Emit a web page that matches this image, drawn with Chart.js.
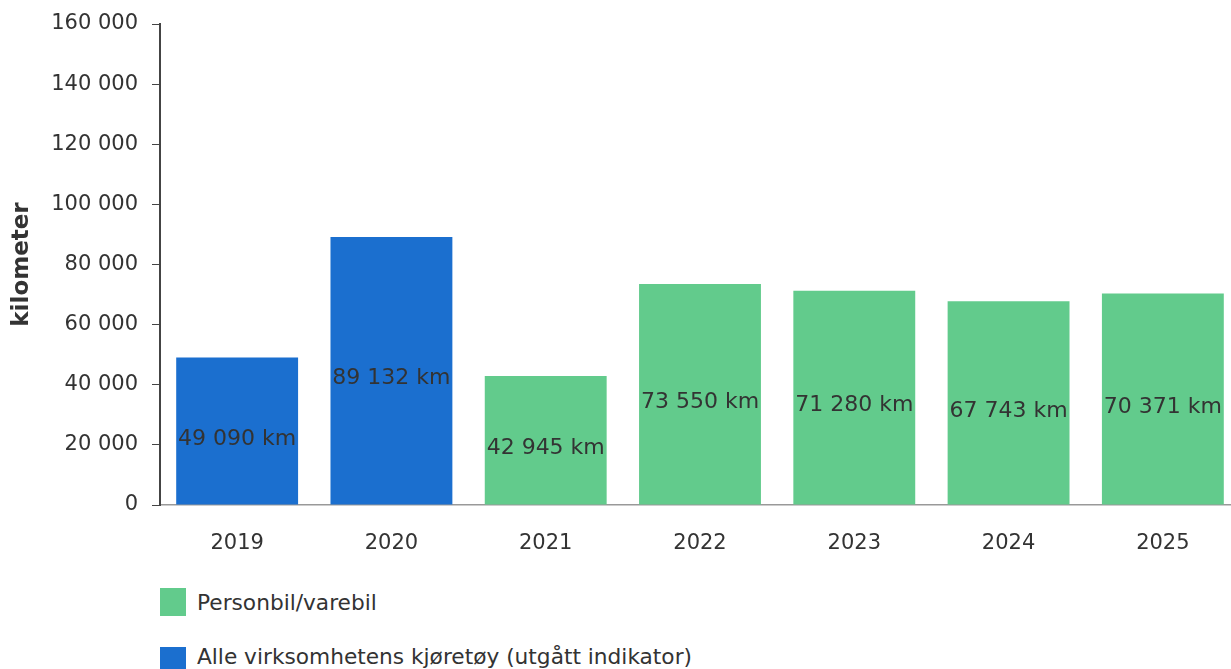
<!DOCTYPE html>
<html>
<head>
<meta charset="utf-8">
<script src="https://cdn.jsdelivr.net/npm/chart.js@4.4.1/dist/chart.umd.min.js"></script>
<style>
  body { margin: 0; background: #fff; overflow: hidden; font-family: "DejaVu Sans", Verdana, sans-serif; }
  #wrap { position: relative; width: 1240px; height: 560px; }
  #legend { position: absolute; left: 160px; top: 588px; }
  .item { display: flex; align-items: center; height: 28px; margin-bottom: 31px; font-size: 21.7px; color: #333; }
  .item:last-child span:last-child { position: relative; top: -5px; }
  .box { width: 26px; height: 28px; margin-right: 11px; }
</style>
</head>
<body>
<div id="wrap"><canvas id="chart"></canvas></div>
<div id="legend"></div>
<script>
const years = ["2019", "2020", "2021", "2022", "2023", "2024", "2025"];
const personbil = [null, null, 42945, 73550, 71280, 67743, 70371];
const alleKjoretoy = [49090, 89132, null, null, null, null, null];
const yTicks = [0, 20000, 40000, 60000, 80000, 100000, 120000, 140000, 160000];

const green = "#62cb8c";
const blue = "#1b6fcf";

// thousands with space, like "160 000"
function fmt(v) {
  return String(v).replace(/\B(?=(\d{3})+(?!\d))/g, " ");
}

// value labels roughly in the middle of each bar
const barLabels = {
  id: "barLabels",
  afterDatasetsDraw(chart) {
    const ctx = chart.ctx;
    ctx.save();
    ctx.font = "22px 'DejaVu Sans'";
    ctx.fillStyle = "#333";
    ctx.textAlign = "center";
    ctx.textBaseline = "middle";
    chart.data.datasets.forEach((ds, i) => {
      chart.getDatasetMeta(i).data.forEach((bar, j) => {
        if (ds.data[j] == null) return;
        const mid = (bar.y + bar.base) / 2 + 8;
        ctx.fillText(fmt(ds.data[j]) + " km", bar.x, mid);
      });
    });
    ctx.restore();
  }
};

new Chart(document.getElementById("chart"), {
  type: "bar",
  data: {
    labels: years,
    datasets: [
      { label: "Personbil/varebil", data: personbil, backgroundColor: green },
      { label: "Alle virksomhetens kjøretøy (utgått indikator)", data: alleKjoretoy, backgroundColor: blue }
    ]
  },
  options: {
    responsive: true,
    maintainAspectRatio: false,
    animation: false,
    layout: { padding: { top: 24, right: 0, bottom: 0, left: 0 } },
    datasets: { bar: { grouped: false, barPercentage: 0.79, categoryPercentage: 1 } },
    plugins: { legend: { display: false }, tooltip: { enabled: false } },
    scales: {
      x: {
        grid: { display: false },
        border: { display: true, color: "#999", width: 1.5 },
        ticks: { color: "#333", font: { family: "DejaVu Sans", size: 21 }, padding: 18 },
        afterFit(scale) { scale.height = 55; }
      },
      y: {
        min: 0,
        max: 160000,
        afterBuildTicks(scale) { scale.ticks = yTicks.map(v => ({ value: v })); },
        grid: { drawOnChartArea: false, drawTicks: true, tickLength: 8, color: "#444" },
        border: { display: true, color: "#444", width: 2 },
        ticks: { color: "#333", font: { family: "DejaVu Sans", size: 21, lineHeight: 0.8 }, padding: 14, callback: v => fmt(v) },
        title: { display: true, text: "kilometer", color: "#333", font: { family: "DejaVu Sans", size: 23, weight: "bold" }, padding: { top: 8, bottom: 0 } },
        afterFit(scale) { scale.width = 160; }
      }
    }
  },
  plugins: [barLabels]
});

// legend below the chart, green first
const legend = document.getElementById("legend");
[["Personbil/varebil", green], ["Alle virksomhetens kjøretøy (utgått indikator)", blue]].forEach(([text, color]) => {
  const item = document.createElement("div");
  item.className = "item";
  item.innerHTML = `<span class="box" style="background:${color}"></span><span>${text}</span>`;
  legend.appendChild(item);
});
</script>
</body>
</html>
